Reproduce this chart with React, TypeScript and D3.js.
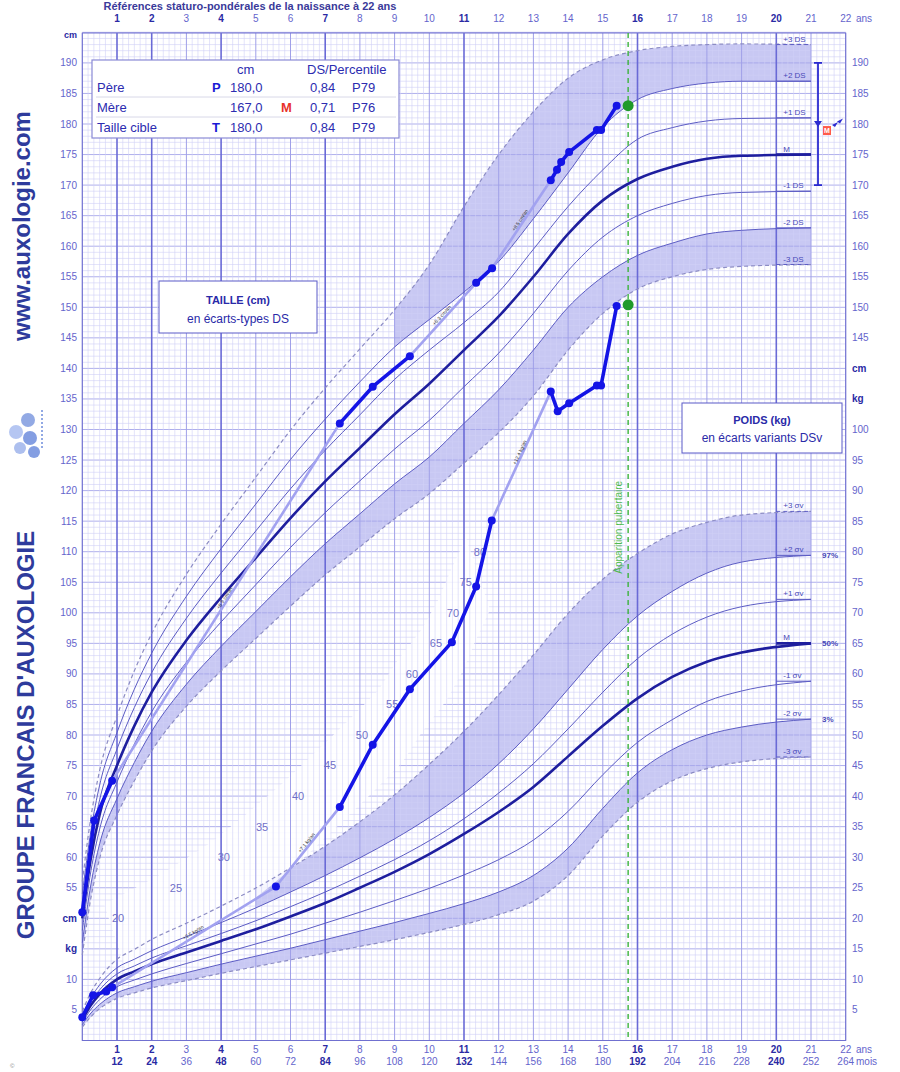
import React from "react";
import * as d3 from "d3";

// ---------- reference ages (years) ----------
const refAges = [0, 0.25, 0.5, 1, 1.5, 2, 3, 4, 5, 6, 7, 8, 9, 10, 11, 12, 13, 14, 15, 16, 17, 18, 19, 21];

// ---------- height reference curves (cm) ----------
const hM3 = [44, 53.4, 59.8, 66.9, 72.5, 77.4, 84.7, 90.5, 95.8, 101.1, 106.2, 110.8, 115.4, 119.5, 124.5, 129.5, 135.5, 143, 149, 153, 155, 156.2, 156.7, 157];
const hM2 = [46, 55.6, 62.2, 69.6, 75.5, 80.6, 88.3, 94.5, 100.2, 105.9, 111.3, 116.2, 121.1, 125.5, 131, 136.5, 143, 150, 155, 158.5, 160.5, 162, 162.6, 163];
const hM1 = [48, 57.8, 64.6, 72.3, 78.5, 83.8, 91.9, 98.5, 104.6, 110.7, 116.4, 121.6, 126.8, 131.5, 137, 142.5, 149, 156, 161.5, 165, 167, 168.3, 168.8, 169];
const hMed = [50, 60, 67, 75, 81.5, 87, 95.5, 102.5, 109, 115.5, 121.5, 127, 132.5, 137.5, 143, 148.5, 155, 162, 167.5, 171, 173, 174.3, 174.8, 175];
const hP1 = [52, 62.2, 69.4, 77.7, 84.5, 90.2, 99.1, 106.5, 113.4, 120.3, 126.6, 132.4, 138.2, 143, 147.5, 152.5, 159.5, 166.5, 172.5, 177.5, 179.4, 180.5, 180.9, 181];
const hP2 = [54, 64.4, 71.8, 80.4, 87.5, 93.4, 102.7, 110.5, 117.8, 125.1, 131.7, 137.8, 143.5, 148, 152.5, 157.5, 164.5, 172, 179.5, 184, 185.8, 186.7, 187.0, 187];
const hP3 = [56, 66.6, 74.2, 83.1, 90.5, 96.6, 106.3, 114.5, 122.2, 129.9, 136.8, 143.2, 149.6, 157, 166.5, 175, 182, 187.5, 190.5, 192, 192.7, 193, 193.1, 193];

// ---------- weight reference curves (kg) ----------
const wM3 = [2.2, 3.9, 5.2, 6.9, 7.8, 8.6, 9.8, 11, 12.1, 13.2, 14.3, 15.4, 16.5, 17.7, 19, 20.6, 22.8, 27, 33.5, 39, 42.5, 44.5, 45.6, 46.4];
const wM2 = [2.6, 4.5, 5.9, 7.8, 8.8, 9.7, 11.1, 12.5, 13.8, 15.1, 16.5, 17.9, 19.3, 20.8, 22.4, 24.3, 27, 31.5, 38, 43.8, 47.6, 50, 51.3, 52.6];
const wM1 = [3.0, 5.1, 6.7, 8.8, 9.9, 10.9, 12.6, 14.2, 15.8, 17.4, 19.2, 21.0, 22.9, 24.9, 27.1, 29.6, 32.8, 37.5, 43.5, 48.8, 52.5, 55.5, 57.2, 58.8];
const wMed = [3.4, 5.8, 7.6, 10, 11.3, 12.5, 14.4, 16.3, 18.2, 20.3, 22.5, 25, 27.6, 30.5, 33.8, 37.4, 41.5, 46.5, 51.5, 56, 59.5, 62, 63.5, 65];
const wP1 = [3.8, 6.4, 8.3, 10.9, 12.2, 13.5, 15.5, 17.5, 19.6, 21.9, 24.3, 26.9, 29.6, 32.7, 36.3, 40.5, 45.3, 51, 57, 62.5, 66.5, 69.3, 71, 72.2];
const wP2 = [4.2, 7.0, 9.1, 11.9, 13.3, 14.7, 17.0, 19.3, 21.7, 24.3, 27.0, 29.9, 33.0, 36.5, 40.5, 45.3, 51, 57.5, 64, 69.5, 73.5, 76.5, 78.3, 79.4];
const wP3 = [4.75, 7.9, 10.15, 13.3, 14.9, 16.55, 19.2, 22.0, 24.95, 28.25, 31.8, 35.8, 40.2, 45.2, 50.6, 56.6, 63.1, 69.9, 75.5, 79.7, 82.9, 84.8, 86.0, 86.6];

// ---------- patient measurements ----------
const heightAges = [0, 0.34, 0.86, 7.42, 8.37, 9.44, 11.35, 11.81, 13.5, 13.68, 13.8, 14.03, 14.83, 14.95, 15.4];
const heightVals = [51, 66, 72.5, 131, 137, 142, 154, 156.4, 170.8, 172.5, 173.8, 175.4, 179, 179, 183];
const weightAges = [0, 0.31, 0.69, 0.86, 5.58, 7.42, 8.37, 9.44, 10.65, 11.35, 11.8, 13.5, 13.7, 14.03, 14.83, 14.95, 15.4];
const weightVals = [3.8, 7.4, 8.0, 8.7, 25.2, 38.2, 48.4, 57.5, 65.2, 74.3, 85.1, 106.2, 103, 104.3, 107.2, 107.2, 120.2];
const pubertyAge = 15.73;
const pubertyHeight = 183;
const pubertyWeight = 120.4;

// ---------- diagonal weight labels ----------
const diagVals = [20, 25, 30, 35, 40, 45, 50, 55, 60, 65, 70, 75, 80];
const diagAges = [1.03, 2.7, 4.08, 5.18, 6.22, 7.14, 8.06, 8.93, 9.5, 10.19, 10.68, 11.05, 11.46];

// ---------- axis ticks ----------
const yearTicks = d3.range(1, 23);
const boldYears = [1, 2, 4, 7, 11, 16, 20];
const leftHeightTicks = d3.range(55, 191, 5);
const rightHeightTicks = d3.range(145, 191, 5);
const rightWeightTicks = d3.range(5, 101, 5);
const leftWeightTicks = [10, 5];

// ---------- parents table ----------
const parentNames = ["Père", "Mère", "Taille cible"];
const parentLetters = ["P", "M", "T"];
const parentCm = ["180,0", "167,0", "180,0"];
const parentDS = ["0,84", "0,71", "0,84"];
const parentPct = ["P79", "P76", "P79"];

const heightLabels = ["+3 DS", "+2 DS", "+1 DS", "M", "-1 DS", "-2 DS", "-3 DS"];
const weightLabels = ["+3 σv", "+2 σv", "+1 σv", "M", "-1 σv", "-2 σv", "-3 σv"];

const FONT = "Liberation Sans, Arial, sans-serif";

export default function App() {
  const x = d3.scaleLinear().domain([0, 22]).range([82.3, 845.7]);
  const yW = d3.scaleLinear().domain([0, 165]).range([1040.5, 32.35]);
  const yH = (h: number) => yW(h - 30);
  const top = 33;
  const bottom = yW(0);
  const left = x(0);
  const right = x(22);

  const curve = (vals: number[], yf: (v: number) => number) =>
    d3
      .line<number>()
      .x((_, i) => x(refAges[i]))
      .y((d) => yf(d))
      .curve(d3.curveMonotoneX)(vals) || "";

  const band = (lo: number[], hi: number[], yf: (v: number) => number, start: number) => {
    const idx = refAges.map((a, i) => i).filter((i) => refAges[i] >= start);
    return (
      d3
        .area<number>()
        .x((i) => x(refAges[i]))
        .y0((i) => yf(lo[i]))
        .y1((i) => yf(hi[i]))
        .curve(d3.curveMonotoneX)(idx) || ""
    );
  };

  const hCurves = [hP3, hP2, hP1, hMed, hM1, hM2, hM3];
  const wCurves = [wP3, wP2, wP1, wMed, wM1, wM2, wM3];
  const styleFor = (k: number) => {
    if (k === 0 || k === 6) return { stroke: "#8c8cc4", strokeWidth: 1.2, strokeDasharray: "4,3" };
    if (k === 3) return { stroke: "#1e1e9e", strokeWidth: 2.6 };
    return { stroke: "#5c5cc4", strokeWidth: 1 };
  };

  // grid
  const hLines = d3.range(0, 166);
  const vLines = d3.range(0, 22 * 6 + 1).map((i) => i / 6);

  // white diagonal band
  const diagTop = diagAges.map((a, i) => [x(a) - 14, yW(diagVals[i]) - 14] as [number, number]);
  const diagBot = diagAges.map((a, i) => [x(a) + 10, yW(diagVals[i]) + 58] as [number, number]);
  const diagPoly = [...diagTop, ...diagBot.slice().reverse()].map((p) => p.join(",")).join(" ");

  const segs = (ages: number[], vals: number[], yf: (v: number) => number) =>
    ages.slice(1).map((a, i) => ({
      x1: x(ages[i]),
      y1: yf(vals[i]),
      x2: x(a),
      y2: yf(vals[i + 1]),
      thick: a - ages[i] < 1.5,
      rate: (vals[i + 1] - vals[i]) / (a - ages[i]),
    }));
  const hSegs = segs(heightAges, heightVals, yH);
  const wSegs = segs(weightAges, weightVals, yW);
  const fmt = d3.format(".1f");

  const axisColor = "#6464cc";
  const boldColor = "#2a2aa4";

  return (
    <svg width={900} height={1072} style={{ position: "absolute", left: 0, top: 0, background: "#fff" }} fontFamily={FONT}>
      <rect x={0} y={0} width={900} height={1072} fill="#fff" />
      {/* title */}
      <text x={250} y={10} textAnchor="middle" fontSize={11} fontWeight="bold" fill="#3a3a9a">
        Références staturo-pondérales de la naissance à 22 ans
      </text>

      {/* shaded bands */}
      <g fill="#b6b6ef" opacity={0.75}>
        <path d={band(hP2, hP3, yH, 9)} />
        <path d={band(hM3, hM2, yH, 0)} />
        <path d={band(wP2, wP3, yW, 5)} />
        <path d={band(wM3, wM2, yW, 0)} />
      </g>

      {/* horizontal grid */}
      <g>
        {hLines.map((v) => (
          <line
            key={"h" + v}
            x1={left}
            x2={right}
            y1={yW(v)}
            y2={yW(v)}
            stroke={v % 5 === 0 ? "#a6a6ea" : "#d0d0f6"}
            strokeWidth={v % 5 === 0 ? 0.9 : 0.6}
          />
        ))}
      </g>

      {/* white diagonal band with weight labels */}
      <polygon points={diagPoly} fill="#ffffff" opacity={0.85} />

      {/* vertical grid */}
      <g>
        {vLines.map((a, i) => {
          const isYear = i % 6 === 0;
          const isBold = isYear && boldYears.includes(i / 6);
          return (
            <line
              key={"v" + i}
              x1={x(a)}
              x2={x(a)}
              y1={top}
              y2={bottom}
              stroke={isBold ? "#6a6ad6" : isYear ? "#a0a0e8" : "#d0d0f6"}
              strokeWidth={isBold ? 1.6 : isYear ? 1 : 0.6}
            />
          );
        })}
      </g>
      <rect x={left} y={top} width={right - left} height={bottom - top} fill="none" stroke="#7070d0" strokeWidth={1} />

      {diagVals.map((v, i) => (
        <text key={"dv" + v} x={x(diagAges[i])} y={yW(v)} dy="0.35em" textAnchor="middle" fontSize={11} fill="#7070c8">
          {v}
        </text>
      ))}

      {/* reference curves */}
      {hCurves.map((c, k) => (
        <path key={"hc" + k} d={curve(c, yH)} fill="none" {...styleFor(k)} />
      ))}
      {wCurves.map((c, k) => (
        <path key={"wc" + k} d={curve(c, yW)} fill="none" {...styleFor(k)} />
      ))}

      {/* curve labels */}
      {hCurves.map((c, k) => (
        <g key={"hl" + k}>
          <line x1={x(20)} x2={x(21)} y1={yH(c[c.length - 1])} y2={yH(c[c.length - 1])} stroke={k === 3 ? "#1e1e9e" : "#5c5cc4"} strokeWidth={k === 3 ? 2.6 : 1} strokeDasharray={k === 0 || k === 6 ? "4,3" : undefined} />
          <text x={x(20.2)} y={yH(c[c.length - 1]) - 3} fontSize={8} fill="#4848b8">
            {heightLabels[k]}
          </text>
        </g>
      ))}
      {wCurves.map((c, k) => (
        <g key={"wl" + k}>
          <line x1={x(20)} x2={x(21)} y1={yW(c[c.length - 1])} y2={yW(c[c.length - 1])} stroke={k === 3 ? "#1e1e9e" : "#5c5cc4"} strokeWidth={k === 3 ? 2.6 : 1} strokeDasharray={k === 0 || k === 6 ? "4,3" : undefined} />
          <text x={x(20.2)} y={yW(c[c.length - 1]) - 3} fontSize={8} fill="#4848b8">
            {weightLabels[k]}
          </text>
        </g>
      ))}
      <text x={822} y={yW(wP2[wP2.length - 1])} dy="0.35em" fontSize={8} fontWeight="bold" fill="#4848b8">97%</text>
      <text x={822} y={yW(wMed[wMed.length - 1])} dy="0.35em" fontSize={8} fontWeight="bold" fill="#4848b8">50%</text>
      <text x={822} y={yW(wM2[wM2.length - 1])} dy="0.35em" fontSize={8} fontWeight="bold" fill="#4848b8">3%</text>

      {/* puberty line */}
      <line x1={x(pubertyAge)} x2={x(pubertyAge)} y1={top} y2={bottom} stroke="#3cb43c" strokeWidth={1.4} strokeDasharray="5,4" />
      <text transform={`translate(${x(pubertyAge) - 6},${yW(84)}) rotate(-90)`} textAnchor="middle" fontSize={10} fill="#4cba4c">
        Apparition pubertaire
      </text>

      {/* patient data: light (interpolated) segments */}
      {[...hSegs, ...wSegs]
        .filter((s) => !s.thick)
        .map((s, i) => (
          <line key={"ls" + i} x1={s.x1} y1={s.y1} x2={s.x2} y2={s.y2} stroke="#a2a2f0" strokeWidth={2.6} />
        ))}
      {[...hSegs.map((s) => ({ ...s, u: "cm" })), ...wSegs.map((s) => ({ ...s, u: "kg" }))]
        .filter((s) => !s.thick)
        .map((s, i) => {
          const mx = (s.x1 + s.x2) / 2;
          const my = (s.y1 + s.y2) / 2;
          const ang = (Math.atan2(s.y2 - s.y1, s.x2 - s.x1) * 180) / Math.PI;
          return (
            <text key={"lt" + i} transform={`translate(${mx},${my - 3}) rotate(${ang})`} textAnchor="middle" fontSize={5} fill="#333">
              {"+" + fmt(s.rate) + " " + s.u + "/an"}
            </text>
          );
        })}
      {[...hSegs, ...wSegs]
        .filter((s) => s.thick)
        .map((s, i) => (
          <line key={"ts" + i} x1={s.x1} y1={s.y1} x2={s.x2} y2={s.y2} stroke="#1414e6" strokeWidth={3.6} strokeLinecap="round" />
        ))}
      {heightAges.map((a, i) => (
        <circle key={"hd" + i} cx={x(a)} cy={yH(heightVals[i])} r={4} fill="#1414e6" />
      ))}
      {weightAges.map((a, i) => (
        <circle key={"wd" + i} cx={x(a)} cy={yW(weightVals[i])} r={4} fill="#1414e6" />
      ))}
      <circle cx={x(pubertyAge)} cy={yH(pubertyHeight)} r={5.5} fill="#1f9a2a" />
      <circle cx={x(pubertyAge)} cy={yW(pubertyWeight)} r={5.5} fill="#1f9a2a" />

      {/* target height bar */}
      <g stroke="#2a2ad0" strokeWidth={1.8}>
        <line x1={818} x2={818} y1={yH(190)} y2={yH(170)} />
        <line x1={814} x2={822} y1={yH(190)} y2={yH(190)} />
        <line x1={814} x2={822} y1={yH(170)} y2={yH(170)} />
      </g>
      <path d={`M${814},${yH(180) - 3} L${822},${yH(180) - 3} L${818},${yH(180) + 3} Z`} fill="#2a2ad0" />
      <rect x={823} y={yH(179.5) - 1} width={8} height={9} fill="#ff5a4a" />
      <text x={827} y={yH(179.5) + 6} textAnchor="middle" fontSize={7} fontWeight="bold" fill="#fff">M</text>
      <path d={`M${832},${yH(180) + 1} L${838},${yH(180) - 2} L${835},${yH(180) + 3} Z`} fill="#2a2ad0" />
      <path d={`M${837},${yH(180.4)} L${843},${yH(180.4) - 3} L${840},${yH(180.4) + 2} Z`} fill="#2a2ad0" />

      {/* parents table */}
      <rect x={92} y={60} width={307} height={78} fill="#fff" stroke="#8a8ad6" strokeWidth={1.2} />
      <text x={237} y={74} fontSize={13} fill="#2c2cb0">cm</text>
      <text x={307} y={74} fontSize={13} fill="#2c2cb0">DS/Percentile</text>
      {parentNames.map((n, i) => {
        const by = 92 + i * 20;
        return (
          <g key={"pr" + i}>
            <text x={97} y={by} fontSize={13} fill="#2c2cb0">{n}</text>
            {i !== 1 && (
              <text x={212} y={by} fontSize={13} fontWeight="bold" fill="#1a1ad6">{parentLetters[i]}</text>
            )}
            {i === 1 && (
              <text x={281} y={by} fontSize={13} fontWeight="bold" fill="#e8322a">{parentLetters[i]}</text>
            )}
            <text x={230} y={by} fontSize={13} fill="#2c2cb0">{parentCm[i]}</text>
            <text x={310} y={by} fontSize={13} fill="#2c2cb0">{parentDS[i]}</text>
            <text x={352} y={by} fontSize={13} fill="#2c2cb0">{parentPct[i]}</text>
            {i < 2 && <line x1={96} x2={396} y1={by + 5} y2={by + 5} stroke="#d8d8e8" strokeWidth={1} />}
          </g>
        );
      })}

      {/* TAILLE box */}
      <rect x={159} y={281} width={158} height={52} fill="#fff" stroke="#5a5ac8" strokeWidth={1} />
      <text x={238} y={304} textAnchor="middle" fontSize={11} fontWeight="bold" fill="#2a2aa8">TAILLE (cm)</text>
      <text x={238} y={323} textAnchor="middle" fontSize={12} fill="#2a2aa8">en écarts-types DS</text>
      {/* POIDS box */}
      <rect x={682} y={403} width={160} height={50} fill="#fff" stroke="#5a5ac8" strokeWidth={1} />
      <text x={762} y={424} textAnchor="middle" fontSize={11} fontWeight="bold" fill="#2a2aa8">POIDS (kg)</text>
      <text x={762} y={442} textAnchor="middle" fontSize={12} fill="#2a2aa8">en écarts variants DSv</text>

      {/* left axis */}
      <text x={77} y={top + 2} dy="0.35em" textAnchor="end" fontSize={9} fontWeight="bold" fill={boldColor}>cm</text>
      {leftHeightTicks.map((h) => (
        <text key={"lh" + h} x={77} y={yH(h)} dy="0.35em" textAnchor="end" fontSize={10} fill={axisColor}>{h}</text>
      ))}
      <text x={77} y={yH(50)} dy="0.35em" textAnchor="end" fontSize={10} fontWeight="bold" fill={boldColor}>cm</text>
      <text x={77} y={yW(15)} dy="0.35em" textAnchor="end" fontSize={10} fontWeight="bold" fill={boldColor}>kg</text>
      {leftWeightTicks.map((w) => (
        <text key={"lw" + w} x={77} y={yW(w)} dy="0.35em" textAnchor="end" fontSize={10} fill={axisColor}>{w}</text>
      ))}

      {/* right axis */}
      {rightHeightTicks.map((h) => (
        <text key={"rh" + h} x={852} y={yH(h)} dy="0.35em" fontSize={10} fill={axisColor}>{h}</text>
      ))}
      <text x={852} y={yW(110)} dy="0.35em" fontSize={10} fontWeight="bold" fill={boldColor}>cm</text>
      <text x={852} y={yW(105)} dy="0.35em" fontSize={10} fontWeight="bold" fill={boldColor}>kg</text>
      {rightWeightTicks.map((w) => (
        <text key={"rw" + w} x={852} y={yW(w)} dy="0.35em" fontSize={10} fill={axisColor}>{w}</text>
      ))}

      {/* top axis */}
      {yearTicks.map((a) => {
        const b = boldYears.includes(a);
        return (
          <text key={"ty" + a} x={x(a)} y={22} textAnchor="middle" fontSize={10} fontWeight={b ? "bold" : "normal"} fill={b ? boldColor : axisColor}>{a}</text>
        );
      })}
      <text x={856} y={22} fontSize={10} fill={axisColor}>ans</text>

      {/* bottom axis */}
      {yearTicks.map((a) => {
        const b = boldYears.includes(a);
        return (
          <g key={"by" + a}>
            <text x={x(a)} y={1053} textAnchor="middle" fontSize={10} fontWeight={b ? "bold" : "normal"} fill={b ? boldColor : axisColor}>{a}</text>
            <text x={x(a)} y={1065} textAnchor="middle" fontSize={10} fontWeight={b ? "bold" : "normal"} fill={b ? boldColor : axisColor}>{a * 12}</text>
          </g>
        );
      })}
      <text x={856} y={1053} fontSize={10} fill={axisColor}>ans</text>
      <text x={856} y={1065} fontSize={10} fill={axisColor}>mois</text>

      {/* side branding */}
      <text transform="translate(30,226) rotate(-90)" textAnchor="middle" fontSize={24} fontWeight="bold" fill="#2e3b9c">www.auxologie.com</text>
      <text transform="translate(34,735) rotate(-90)" textAnchor="middle" fontSize={24} fontWeight="bold" fill="#2e3b9c">GROUPE FRANCAIS D'AUXOLOGIE</text>
      {/* logo */}
      <g opacity={0.85}>
        <circle cx={28} cy={420} r={7} fill="#7f9be0" />
        <circle cx={16} cy={432} r={7} fill="#a9bdf0" />
        <circle cx={30} cy={438} r={7} fill="#6f8ede" />
        <circle cx={20} cy={448} r={6} fill="#9fb4ec" />
        <circle cx={34} cy={452} r={6} fill="#6f8ede" />
        <line x1={42} x2={42} y1={410} y2={450} stroke="#7f9be0" strokeWidth={2} strokeDasharray="2,2" />
      </g>
      <text x={10} y={1068} fontSize={6} fill="#888">©</text>
    </svg>
  );
}
